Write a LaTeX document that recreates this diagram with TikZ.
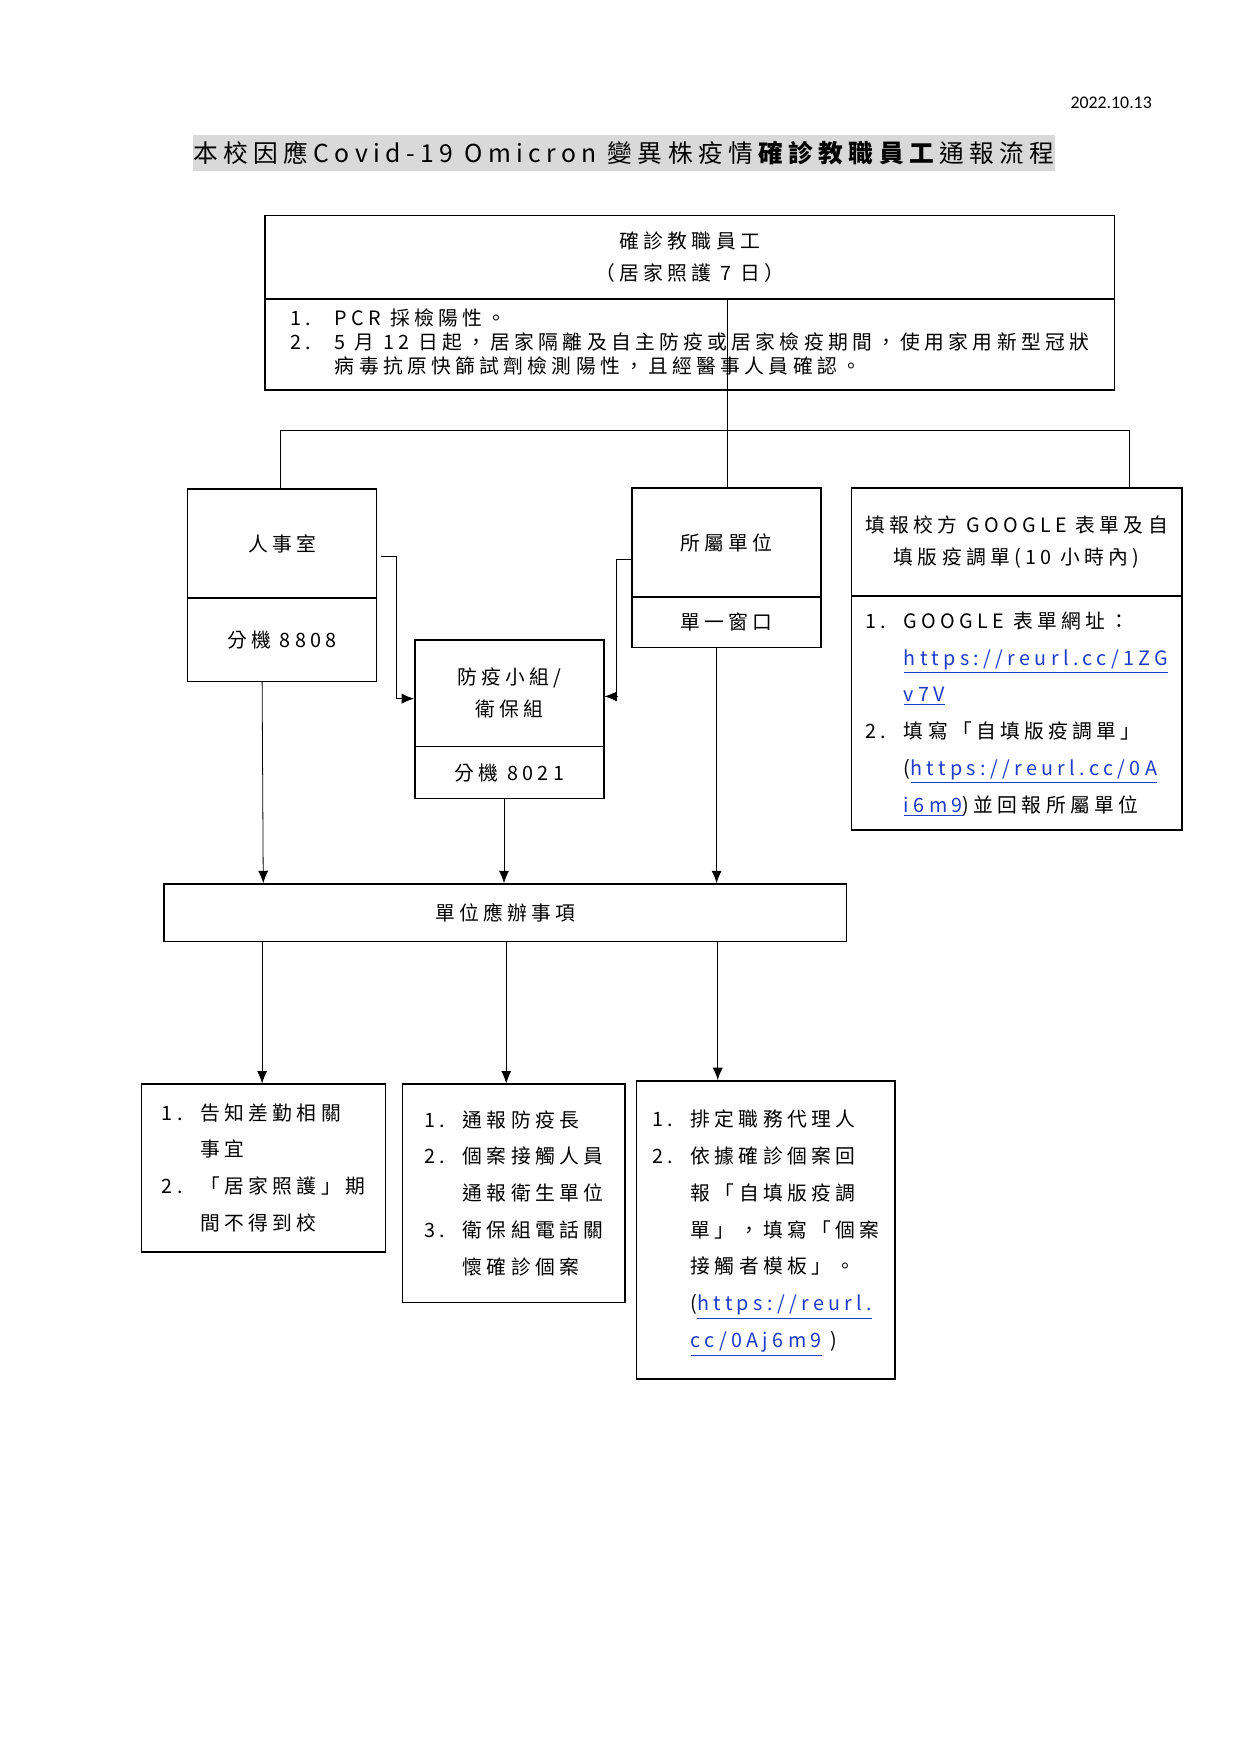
\documentclass[tikz,border=0pt]{standalone}
\usepackage{fontspec}
\setmainfont{Noto Sans CJK TC}[LetterSpace=22]
\newfontfamily\datefont{Carlito}
\usetikzlibrary{arrows.meta, positioning}
\definecolor{linkblue}{RGB}{30,60,200}
\definecolor{titlegray}{RGB}{217,217,217}
\newcommand{\lnk}[1]{\textcolor{linkblue}{\underline{#1}}}
\tikzset{
  box/.style = {rectangle, draw=black, thick, anchor=north west, inner sep=0pt, font=\fontsize{10}{12}\selectfont},
  arrow/.style = {thin, -{Latex[length=2.2mm,width=1.8mm]}},
  link/.style = {thin}
}
\begin{document}
\begin{tikzpicture}[x=0.02cm, y=-0.02cm]
\useasboundingbox (0,0) rectangle (1102,1560);

\node (date) [anchor=east, font=\datefont\fontsize{9}{10}\selectfont] at (1030,91) {2022.10.13};
\node (title) [fill=titlegray, minimum width=14.34cm, minimum height=0.64cm, font=\fontsize{12.5}{14}\selectfont, inner sep=0pt] at (554.5,136) {本校因應Covid-19 Omicron 變異株疫情\textbf{確診教職員工}通報流程};

% top box
\node (case) [box, minimum width=15.1cm, minimum height=1.48cm, align=center] at (235,191) {確診教職員工\\[4pt]（居家照護 7 日）};
\node (cond) [box, minimum width=15.1cm, minimum height=1.62cm, align=left, font=\fontsize{10}{11.5}\selectfont] at (235,265)
  {\begin{tabular}{@{}l@{\hspace{1.2em}}l@{}}1. & PCR 採檢陽性。\\ 2. & 5 月 12 日起，居家隔離及自主防疫或居家檢疫期間，使用家用新型冠狀\\ & 病毒抗原快篩試劑檢測陽性，且經醫事人員確認。\end{tabular}};

% second row
\node (hr) [box, minimum width=3.36cm, minimum height=1.94cm] at (166,434) {人事室};
\node (hrext) [box, minimum width=3.36cm, minimum height=1.48cm] at (166,531) {分機 8808};
\node (unit) [box, minimum width=3.36cm, minimum height=1.94cm] at (561,433) {所屬單位};
\node (window) [box, minimum width=3.36cm, minimum height=0.9cm] at (561,530) {單一窗口};
\node (form) [box, minimum width=5.88cm, minimum height=1.92cm, align=center] at (756,433) {填報校方 GOOGLE 表單及自\\[4pt]填版疫調單(10 小時內)};
\node (formlist) [box, minimum width=5.88cm, minimum height=4.16cm, align=left] at (756,529)
  {\renewcommand{\arraystretch}{1.55}\begin{tabular}{@{}l@{\hspace{0.9em}}l@{}}1. & GOOGLE 表單網址：\\ & \lnk{https://reurl.cc/1ZG}\\ & \lnk{v7V}\\ 2. & 填寫「自填版疫調單」\\ & (\lnk{https://reurl.cc/0A}\\ & \lnk{i6m9})並回報所屬單位\end{tabular}};
\node (team) [box, minimum width=3.36cm, minimum height=1.9cm, align=center] at (368,568) {防疫小組/\\[4pt]衛保組};
\node (teamext) [box, minimum width=3.36cm, minimum height=0.92cm] at (368,663) {分機 8021};

% tasks
\node (tasks) [box, minimum width=12.14cm, minimum height=1.02cm] at (145,785) {單位應辦事項};
\node (taskhr) [box, minimum width=4.34cm, minimum height=2.98cm, align=left] at (125,963)
  {\renewcommand{\arraystretch}{1.55}\begin{tabular}{@{}l@{\hspace{0.9em}}l@{}}1. & 告知差勤相關\\ & 事宜\\ 2. & 「居家照護」期\\ & 間不得到校\end{tabular}};
\node (taskteam) [box, minimum width=3.96cm, minimum height=3.88cm, align=left] at (357,963)
  {\renewcommand{\arraystretch}{1.55}\begin{tabular}{@{}l@{\hspace{0.9em}}l@{}}1. & 通報防疫長\\ 2. & 個案接觸人員\\ & 通報衛生單位\\ 3. & 衛保組電話關\\ & 懷確診個案\end{tabular}};
\node (taskunit) [box, minimum width=4.6cm, minimum height=5.3cm, align=left] at (565,960)
  {\renewcommand{\arraystretch}{1.55}\begin{tabular}{@{}l@{\hspace{0.9em}}l@{}}1. & 排定職務代理人\\ 2. & 依據確診個案回\\ & 報「自填版疫調\\ & 單」，填寫「個案\\ & 接觸者模板」。\\ & (\lnk{https://reurl.}\\ & \lnk{cc/0Aj6m9} )\end{tabular}};

% connectors
\coordinate (bus) at (647,383);
\draw [link] (case.south -| bus) -- (unit.north -| bus);
\draw [link] (249,383) -- (1004,383);
\draw [link] (249,383) -- (hr.north -| 249,0);
\draw [link] (1004,383) -- (form.north -| 1004,0);
\draw [arrow] (339,495) -- (352,495) -- (352,621) -- (team.west |- 0,621);
\draw [arrow] (unit.west |- 0,497) -- (548,497) -- (548,619) -- (team.east |- 0,619);
\draw [arrow] (hrext.south -| 233,0) -- (tasks.north -| 234,0);
\draw [arrow] (teamext.south -| 448,0) -- (tasks.north -| 448,0);
\draw [arrow] (window.south -| 637,0) -- (tasks.north -| 637,0);
\draw [arrow] (tasks.south -| 233,0) -- (taskhr.north -| 233,0);
\draw [arrow] (tasks.south -| 450,0) -- (taskteam.north -| 450,0);
\draw [arrow] (tasks.south -| 638,0) -- (taskunit.north -| 638,0);
\end{tikzpicture}
\end{document}
